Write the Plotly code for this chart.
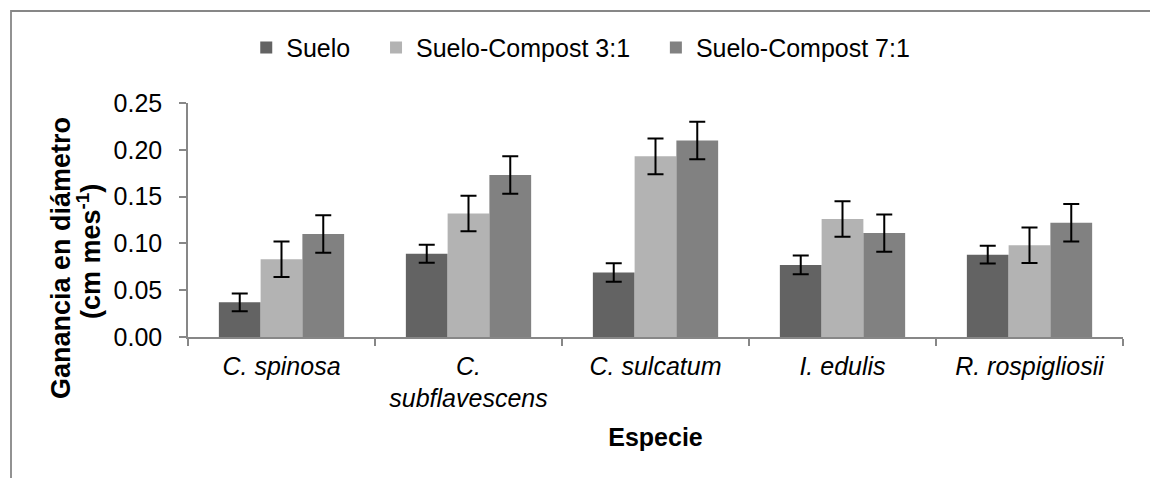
import plotly.graph_objects as go

species = ["<i>C. spinosa</i>", "<i>C.<br>subflavescens</i>", "<i>C. sulcatum</i>", "<i>I. edulis</i>", "<i>R. rospigliosii</i>"]
series_names = ["Suelo", "Suelo-Compost 3:1", "Suelo-Compost 7:1"]
suelo = [0.037, 0.089, 0.069, 0.077, 0.088]
suelo_err = [0.0095, 0.0096, 0.0099, 0.010, 0.0096]
compost31 = [0.083, 0.132, 0.193, 0.126, 0.098]
compost31_err = [0.019, 0.019, 0.019, 0.019, 0.019]
compost71 = [0.110, 0.173, 0.210, 0.111, 0.122]
compost71_err = [0.020, 0.020, 0.020, 0.020, 0.020]
colors = ["#636363", "#b3b3b3", "#818181"]
y_title_lines = ["<b>Ganancia en diámetro</b>", "<b>(cm mes<sup>-1</sup>)</b>"]
x_title = "<b>Especie</b>"

FONT = "Arial, Liberation Sans, sans-serif"
W, H = 1150, 478
L, R, T, B = 188, 27, 103, 141
pw, ph = W - L - R, H - T - B

NBSP = "\u00a0"
legend_pad = [NBSP * 3, NBSP * 3, ""]

fig = go.Figure()
for name, pad, vals, errs, col in zip(series_names, legend_pad, [suelo, compost31, compost71],
                                      [suelo_err, compost31_err, compost71_err], colors):
    fig.add_trace(go.Bar(
        name=name + pad, x=species, y=vals, marker=dict(color=col, line=dict(width=0)),
        error_y=dict(type="data", array=errs, visible=True, color="black", thickness=2, width=8),
    ))

def px2x(p):
    return (p - L) / pw

def py2y(p):
    return (H - B - p) / ph

# outer chart border (top and left edges visible, right/bottom run off the image)
fig.add_shape(type="rect", xref="paper", yref="paper",
              x0=px2x(11), x1=px2x(1170), y0=py2y(500), y1=py2y(11),
              line=dict(color="#878787", width=1.8), fillcolor="rgba(0,0,0,0)", layer="below")

# y-axis title, two rotated lines
for txt, xc, yc in zip(y_title_lines, [61, 89], [258, 252]):
    fig.add_annotation(text=txt, xref="paper", yref="paper",
                       x=px2x(xc), y=py2y(yc), xanchor="center", yanchor="middle",
                       textangle=-90, showarrow=False, font=dict(size=27, color="black"))

fig.update_layout(
    width=W, height=H,
    margin=dict(l=L, r=R, t=T, b=B, autoexpand=False),
    paper_bgcolor="white", plot_bgcolor="white",
    barmode="group", bargap=0.33, bargroupgap=0,
    font=dict(family=FONT, size=25, color="black"),
    showlegend=True,
    legend=dict(orientation="h", xref="container", yref="container",
                x=0.505, xanchor="center", y=0.9, yanchor="middle",
                font=dict(size=25), itemwidth=30, tracegroupgap=0),
    xaxis=dict(
        showline=True, linecolor="#878787", linewidth=1.5,
        ticks="outside", tickson="boundaries", ticklen=7, tickcolor="#878787", tickwidth=1.5,
        showgrid=False, tickfont=dict(size=25), ticklabelstandoff=6,
        title=dict(text=x_title, font=dict(size=25), standoff=17),
    ),
    yaxis=dict(
        range=[0, 0.25], dtick=0.05, tickformat=".2f",
        showline=True, linecolor="#878787", linewidth=1.5,
        ticks="outside", ticklen=7, tickcolor="#878787", tickwidth=1.5,
        showgrid=False, zeroline=False, tickfont=dict(size=25), ticklabelstandoff=12,
    ),
)

fig.write_html("out.html", config={"displayModeBar": False},
               post_script="document.body.style.margin='0';document.body.style.overflow='hidden';")
